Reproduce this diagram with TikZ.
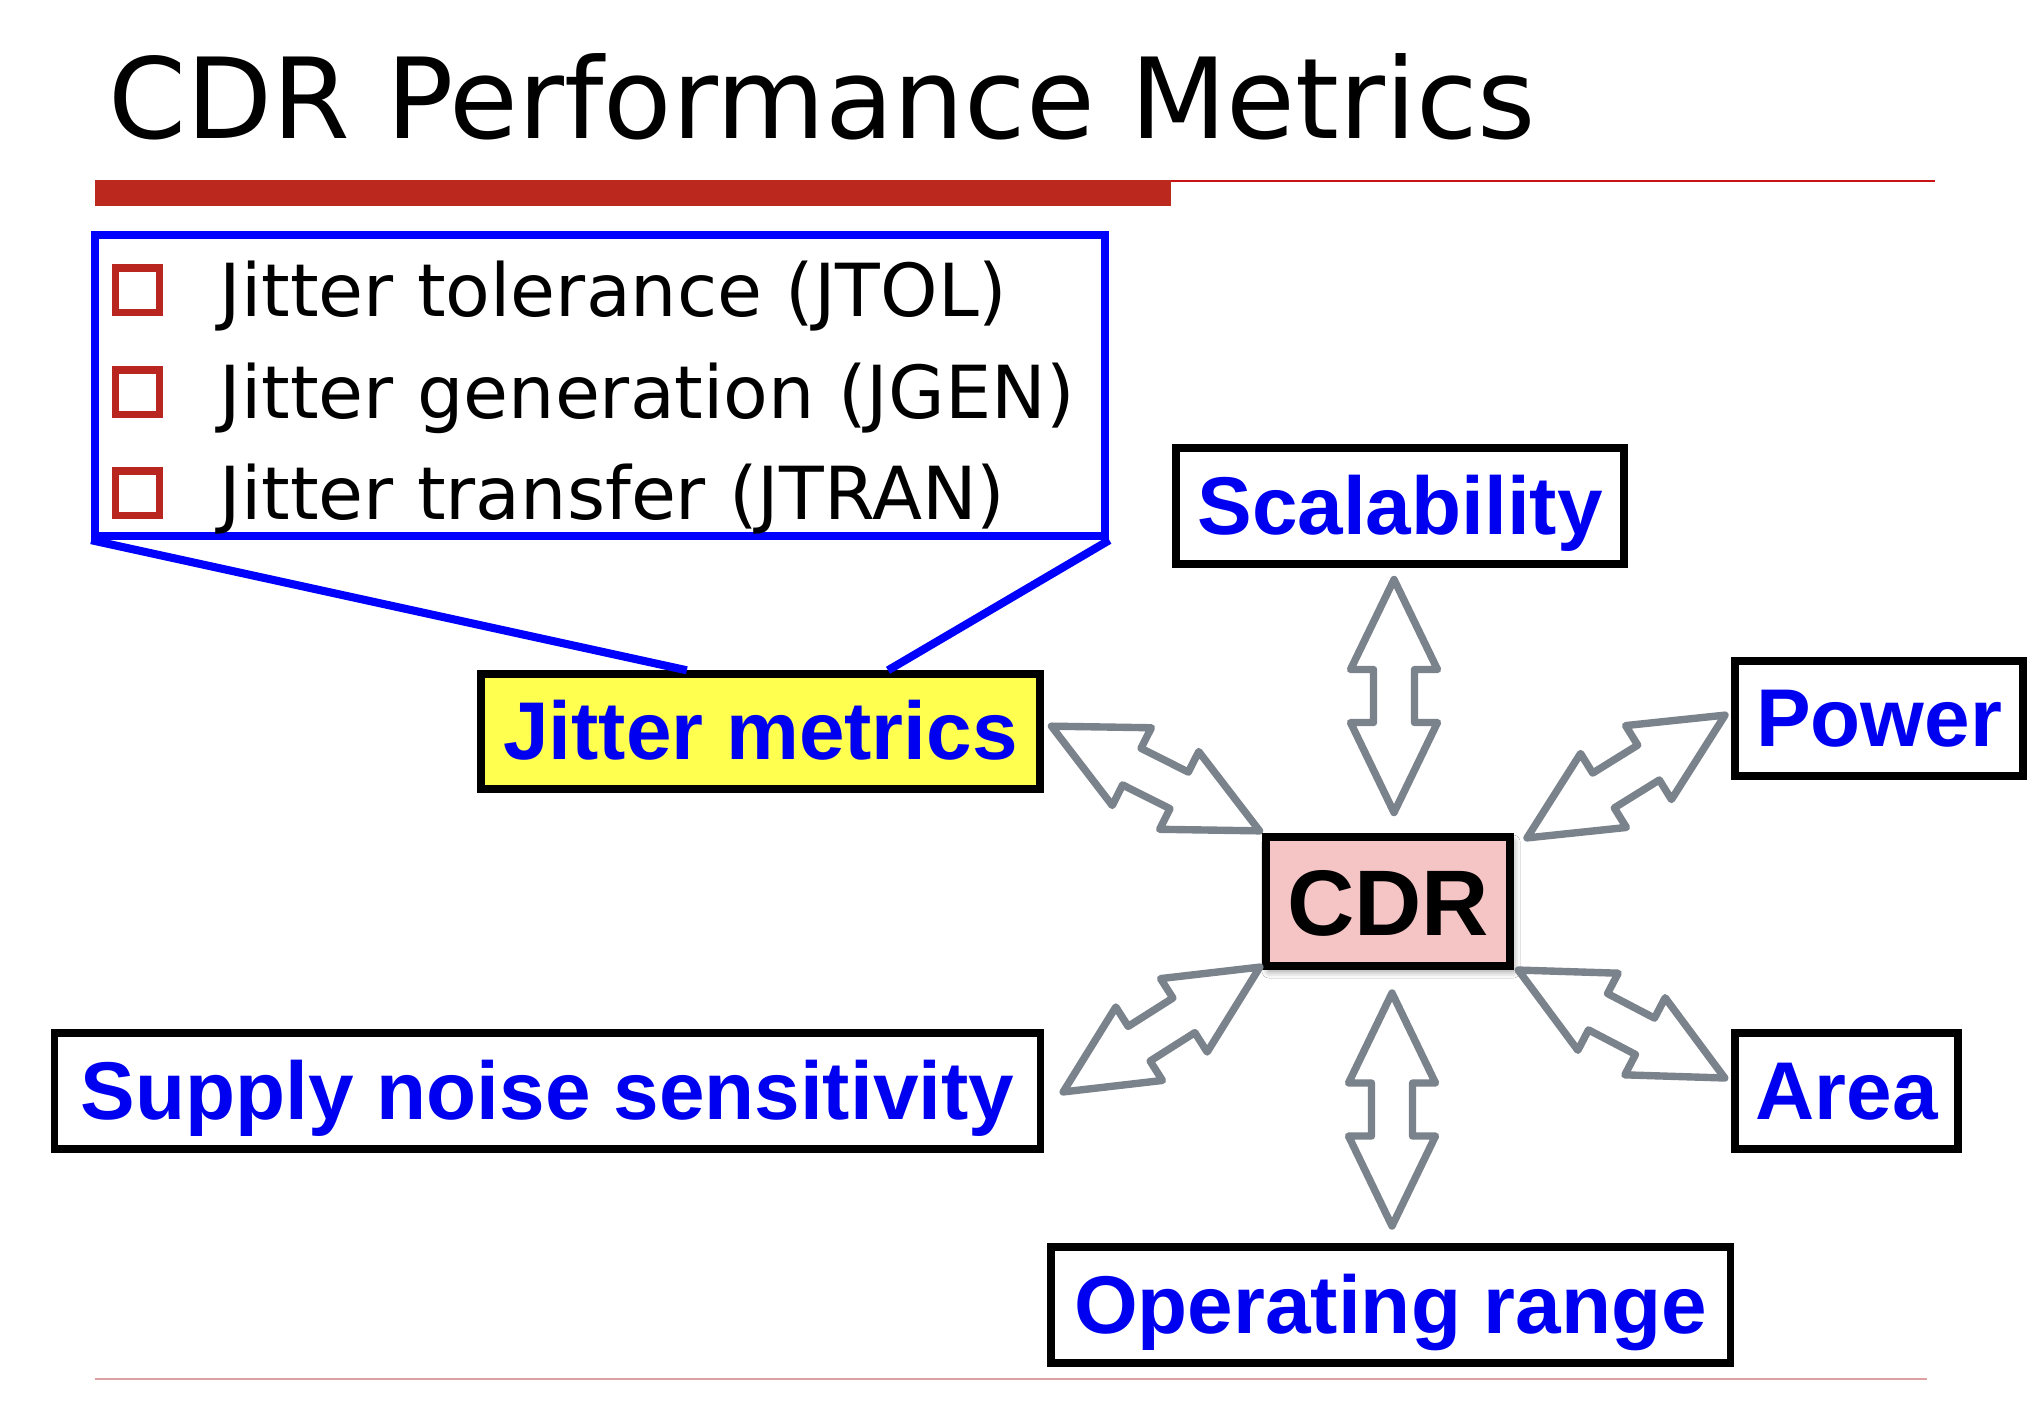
\documentclass[tikz,border=0pt]{standalone}
\usepackage{fontspec}
\setmainfont{DejaVu Sans}
\newfontfamily\labfont{Liberation Sans}
\usetikzlibrary{calc,shadows.blur}
\definecolor{barred}{RGB}{186,40,30}
\definecolor{linered}{RGB}{200,20,20}
\definecolor{footred}{RGB}{222,160,160}
\definecolor{sqred}{RGB}{184,38,31}
\definecolor{arrgray}{RGB}{122,130,140}
\definecolor{jyellow}{RGB}{255,255,80}
\definecolor{cdrpink}{RGB}{245,196,196}
\definecolor{lblue}{RGB}{0,0,240}
\tikzset{
  lbox/.style={draw=black, line width=2.1pt, rectangle, inner sep=0pt, align=center,
    text height=0.56cm, text depth=0cm,
    font=\labfont\fontsize{23.3}{28}\selectfont\bfseries, text=lblue},
  bullettext/.style={anchor=base west, inner sep=0pt, font=\fontsize{20.8}{24}\selectfont},
  bsq/.style={draw=sqred, line width=2pt, rectangle, minimum width=0.44cm, minimum height=0.44cm, inner sep=0pt},
  bluel/.style={draw=blue, line width=2.3pt},
  dblarr/.pic={
    \draw[arrgray, fill=white, line width=2.1pt, line join=round]
      (-116.5,0) -- (-26.5,43.5) -- (-26.5,20.5) -- (26.5,20.5) -- (26.5,43.5)
      -- (116.5,0) -- (26.5,-43.5) -- (26.5,-20.5) -- (-26.5,-20.5) -- (-26.5,-43.5) -- cycle;
  }
}
\begin{document}
\begin{tikzpicture}[x=0.01cm,y=-0.01cm]
\useasboundingbox (0,0) rectangle (2036,1426);
\fill[white] (0,0) rectangle (2036,1426);
% title
\node[anchor=base west, inner sep=0pt, font=\fontsize{31.8}{36}\selectfont] (title) at (108,138) {CDR Performance Metrics};
% title rules
\fill[barred] (95,180) rectangle (1171,206);
\draw[linered, line width=0.6pt] (1171,181) -- (1935,181);
\draw[footred, line width=0.8pt] (95,1379) -- (1927,1379);
% jitter list box
\node[draw=blue, line width=2.3pt, rectangle, inner sep=0pt, minimum width=10.095cm, minimum height=3.005cm] (jbox) at (600.25,385.75) {};
\node[bsq] (s1) at (137.5,290) {};
\node[bsq] (s2) at (137.5,392) {};
\node[bsq] (s3) at (137.5,493) {};
\node[bullettext] (t1) at (219,316) {Jitter tolerance (JTOL)};
\node[bullettext] (t2) at (219,418) {Jitter generation (JGEN)};
\node[bullettext] (t3) at (219,519) {Jitter transfer (JTRAN)};
% metric boxes
\node[lbox, fill=jyellow, minimum width=5.59cm, minimum height=1.15cm] (jm) at (760.5,731.5) {Jitter metrics};
\node[lbox, fill=white, minimum width=4.48cm, minimum height=1.16cm] (scal) at (1400,506) {Scalability};
\node[lbox, fill=white, minimum width=2.88cm, minimum height=1.15cm] (power) at (1879,718.5) {Power};
\node[lbox, fill=white, minimum width=9.85cm, minimum height=1.16cm] (supply) at (547.5,1091) {Supply noise sensitivity};
\node[lbox, fill=white, minimum width=2.23cm, minimum height=1.16cm] (area) at (1846.5,1091) {Area};
\node[lbox, fill=white, minimum width=6.79cm, minimum height=1.16cm] (oper) at (1390.5,1305) {Operating range};
\node[lbox, fill=cdrpink, text=black, font=\labfont\fontsize{26.5}{30}\selectfont\bfseries,
  text height=0.67cm, minimum width=2.44cm, minimum height=1.29cm,
  blur shadow={shadow xshift=0.03cm, shadow yshift=-0.05cm, shadow blur radius=0.07cm, shadow opacity=45}] (cdr) at (1388,901.5) {CDR};
% connectors from list box to jitter metrics
\coordinate (jmL) at ($(jm.north west)!0.37!(jm.north east)$);
\coordinate (jmR) at ($(jm.north west)!0.725!(jm.north east)$);
\draw[bluel] (jbox.south west) -- (jmL);
\draw[bluel] (jbox.south east) -- (jmR);
% double arrows
\pic[rotate=90] at (1394,696) {dblarr};
\pic[rotate=90] at (1392,1109.5) {dblarr};
\pic[rotate=-26.7] at (1155.5,778.5) {dblarr};
\pic[rotate=31.8] at (1626,776.5) {dblarr};
\pic[rotate=32.4] at (1161.5,1029.5) {dblarr};
\pic[rotate=-27.6] at (1621.5,1024) {dblarr};
\end{tikzpicture}
\end{document}
